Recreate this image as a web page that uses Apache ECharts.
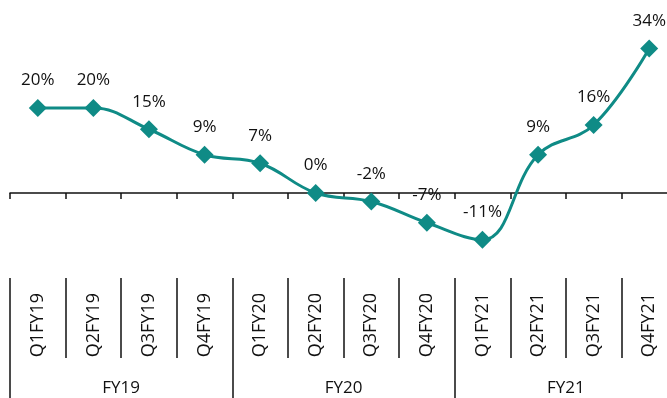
<!DOCTYPE html>
<html>
<head>
<meta charset="utf-8">
<script src="https://cdn.jsdelivr.net/npm/echarts@6/dist/echarts.min.js"></script>
<style>
  html, body { margin: 0; padding: 0; background: #fff; overflow: hidden; }
  #chart { width: 677px; height: 398px; }
</style>
</head>
<body>
<div id="chart"></div>
<script>
// Quarterly growth, FY19–FY21
const quarters = ['Q1FY19', 'Q2FY19', 'Q3FY19', 'Q4FY19',
                  'Q1FY20', 'Q2FY20', 'Q3FY20', 'Q4FY20',
                  'Q1FY21', 'Q2FY21', 'Q3FY21', 'Q4FY21'];
const fiscalYears = ['FY19', 'FY20', 'FY21'];
const growth = [20, 20, 15, 9, 7, 0, -2, -7, -11, 9, 16, 34];

const TEAL = '#0f8b86';
const INK = '#111';
const FONT = 'Open Sans';

const chart = echarts.init(document.getElementById('chart'), null, { renderer: 'canvas' });

chart.setOption({
  animation: false,
  textStyle: { fontFamily: FONT },
  grid: { left: 10, right: 0, top: 23, height: 255, containLabel: false },
  xAxis: [
    {
      // zero line with short boundary ticks
      type: 'category',
      data: quarters,
      boundaryGap: true,
      axisLine: { onZero: true, lineStyle: { color: INK, width: 1.5 } },
      axisTick: { show: true, interval: 0, length: 6, lineStyle: { color: INK, width: 1.5 } },
      axisLabel: { show: false }
    },
    {
      // quarter labels row
      type: 'category',
      data: quarters,
      position: 'bottom',
      boundaryGap: true,
      axisLine: { show: false, onZero: false },
      axisTick: { show: true, interval: 0, length: 80, lineStyle: { color: INK, width: 1.5 } },
      axisLabel: { interval: 0, rotate: 90, margin: 15, fontSize: 18, color: INK, fontFamily: FONT }
    },
    {
      // fiscal-year group row
      type: 'category',
      data: fiscalYears,
      position: 'bottom',
      boundaryGap: true,
      axisLine: { show: false, onZero: false },
      axisTick: { show: true, interval: 0, length: 125, lineStyle: { color: INK, width: 1.5 } },
      axisLabel: { interval: 0, margin: 102, fontSize: 17, color: INK, fontFamily: FONT }
    }
  ],
  yAxis: {
    type: 'value',
    min: -20,
    max: 40,
    show: false,
    splitLine: { show: false }
  },
  series: [{
    type: 'line',
    data: growth,
    xAxisIndex: 0,
    smooth: 0.4,
    symbol: 'diamond',
    symbolSize: 18,
    lineStyle: { color: TEAL, width: 3 },
    itemStyle: { color: TEAL },
    label: {
      show: true,
      position: 'top',
      distance: 10,
      fontSize: 17,
      color: INK,
      fontFamily: FONT,
      formatter: p => p.value + '%'
    }
  }]
});
</script>
</body>
</html>
